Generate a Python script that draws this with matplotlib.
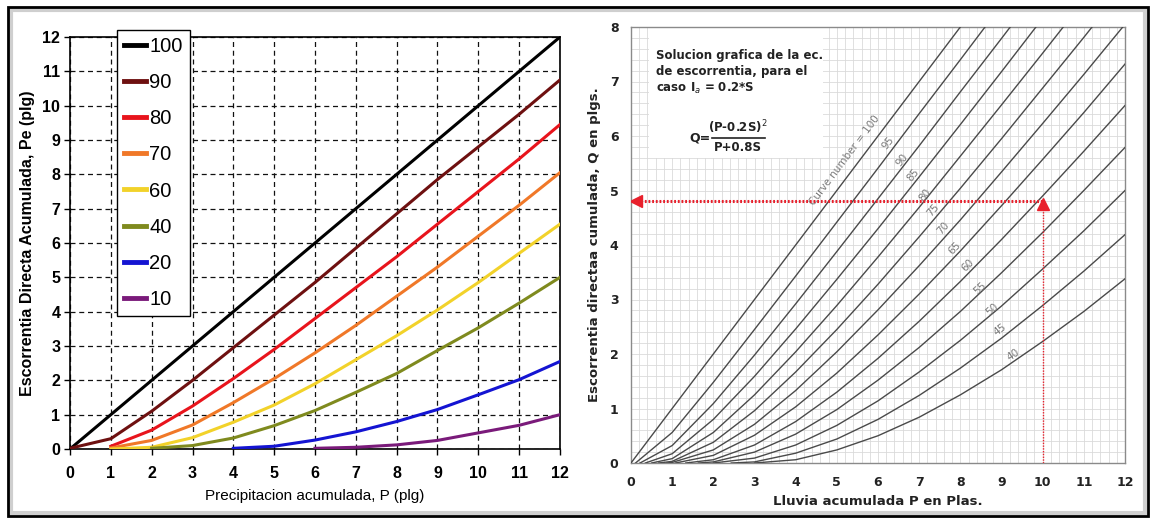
import numpy as np
import matplotlib.pyplot as plt
from matplotlib.patches import Rectangle

nan = np.nan
W, H = 1153, 520

# ---- left chart: Pe vs P ----
cn_left = ["100", "90", "80", "70", "60", "40", "20", "10"]
colors_left = ["#000000", "#6e1010", "#e8141c", "#f07828", "#f2d22a",
               "#7f8a1e", "#1414d2", "#7a1a7a"]
p_100 = [0, 1, 2, 3, 4, 5, 6, 7, 8, 9, 10, 11, 12]
pe_100 = [0, 1, 2, 3, 4, 5, 6, 7, 8, 9, 10, 11, 12]
p_90 = [0, 1, 2, 3, 4, 5, 6, 7, 8, 9, 10, 11, 12]
pe_90 = [0.02, 0.3, 1.1, 2.0, 2.95, 3.9, 4.85, 5.85, 6.85, 7.85, 8.8, 9.75, 10.75]
p_80 = [1, 2, 3, 4, 5, 6, 7, 8, 9, 10, 11, 12]
pe_80 = [0.08, 0.55, 1.25, 2.05, 2.9, 3.8, 4.7, 5.6, 6.55, 7.5, 8.45, 9.45]
p_70 = [1, 2, 3, 4, 5, 6, 7, 8, 9, 10, 11, 12]
pe_70 = [0.03, 0.25, 0.7, 1.35, 2.05, 2.8, 3.6, 4.45, 5.3, 6.2, 7.1, 8.05]
p_60 = [1, 2, 3, 4, 5, 6, 7, 8, 9, 10, 11, 12]
pe_60 = [0.0, 0.05, 0.33, 0.78, 1.28, 1.9, 2.6, 3.3, 4.05, 4.85, 5.7, 6.55]
p_40 = [2, 3, 4, 5, 6, 7, 8, 9, 10, 11, 12]
pe_40 = [0.02, 0.1, 0.32, 0.68, 1.12, 1.65, 2.2, 2.87, 3.53, 4.25, 5.0]
p_20 = [4, 5, 6, 7, 8, 9, 10, 11, 12]
pe_20 = [0.02, 0.08, 0.26, 0.5, 0.8, 1.15, 1.58, 2.02, 2.55]
p_10 = [6, 7, 8, 9, 10, 11, 12]
pe_10 = [0.02, 0.05, 0.12, 0.25, 0.47, 0.69, 1.0]

# ---- right chart: Q vs P for curve numbers ----
p_right = [0, 1, 2, 3, 4, 5, 6, 7, 8, 9, 10, 11, 12]
cn_right = [100, 95, 90, 85, 80, 75, 70, 65, 60, 55, 50, 45, 40]
ia_right = [0.0, 0.11, 0.22, 0.35, 0.5, 0.67, 0.86, 1.08, 1.33, 1.64, 2.0, 2.44, 3.0]
q100 = [0, 1, 2, 3, 4, 5, 6, 7, 8, 9, 10, 11, 12]
q95 = [nan, 0.56, 1.48, 2.45, 3.43, 4.42, 5.41, 6.41, 7.40, 8.40, 9.39, 10.39, 11.39]
q90 = [nan, 0.32, 1.09, 1.98, 2.92, 3.88, 4.85, 5.82, 6.81, 7.79, 8.78, 9.77, 10.76]
q85 = [nan, 0.17, 0.80, 1.59, 2.46, 3.37, 4.30, 5.25, 6.21, 7.18, 8.16, 9.13, 10.12]
q80 = [nan, 0.08, 0.56, 1.25, 2.04, 2.89, 3.78, 4.69, 5.63, 6.57, 7.52, 8.48, 9.45]
q75 = [nan, 0.03, 0.38, 0.96, 1.67, 2.45, 3.28, 4.15, 5.04, 5.95, 6.88, 7.81, 8.76]
q70 = [nan, 0.01, 0.24, 0.71, 1.33, 2.04, 2.81, 3.62, 4.46, 5.34, 6.23, 7.13, 8.05]
q65 = [nan, nan, 0.14, 0.51, 1.03, 1.65, 2.35, 3.10, 3.89, 4.72, 5.57, 6.43, 7.32]
q60 = [nan, nan, 0.06, 0.33, 0.76, 1.30, 1.92, 2.60, 3.33, 4.10, 4.90, 5.72, 6.56]
q55 = [nan, nan, 0.02, 0.20, 0.53, 0.98, 1.52, 2.12, 2.78, 3.49, 4.23, 5.00, 5.79]
q50 = [nan, nan, nan, 0.09, 0.33, 0.69, 1.14, 1.67, 2.25, 2.88, 3.56, 4.26, 5.00]
q45 = [nan, nan, nan, 0.02, 0.18, 0.44, 0.80, 1.24, 1.74, 2.29, 2.89, 3.52, 4.19]
q40 = [nan, nan, nan, nan, 0.06, 0.24, 0.50, 0.84, 1.25, 1.71, 2.23, 2.78, 3.38]
q_right = [q100, q95, q90, q85, q80, q75, q70, q65, q60, q55, q50, q45, q40]
curve_labels = ["Curve number = 100", "95", "90", "85", "80", "75", "70",
                "65", "60", "55", "50", "45", "40"]
# reading example: P = 10 plg gives Q = 4.8 plg
p_example = 10
q_example = 4.8

arial = ["Liberation Sans", "DejaVu Sans"]

fig = plt.figure(figsize=(W / 100, H / 100), dpi=100)
fig.patch.set_facecolor("white")

# ---------------- left panel ----------------
ax1 = fig.add_axes([70 / W, 1 - 449 / H, 490 / W, 412 / H])
left_x = [p_100, p_90, p_80, p_70, p_60, p_40, p_20, p_10]
left_y = [pe_100, pe_90, pe_80, pe_70, pe_60, pe_40, pe_20, pe_10]
for x, y, lab, c in zip(left_x, left_y, cn_left, colors_left):
    ax1.plot(x, y, color=c, lw=2.2, label=lab, zorder=3)
ax1.set_xlim(0, 12)
ax1.set_ylim(0, 12)
ax1.set_xticks(range(13))
ax1.set_yticks(range(13))
ax1.grid(True, ls=(0, (4, 3)), color="#111111", lw=0.9)
ax1.set_axisbelow(True)
for s in ax1.spines.values():
    s.set_color("black")
    s.set_linewidth(1.2)
ax1.tick_params(length=4, width=1, pad=3, labelsize=11.5)
ax1.tick_params(axis="x", pad=8)
for t in ax1.get_xticklabels() + ax1.get_yticklabels():
    t.set_family(arial)
    t.set_fontweight("bold")
ax1.set_xlabel("Precipitacion acumulada, P (plg)", family=arial,
               fontsize=11, labelpad=6)
ax1.set_ylabel("Escorrentia Directa Acumulada, Pe (plg)", family=arial,
               fontweight="bold", fontsize=11.5, labelpad=5)
leg = ax1.legend(loc="upper left", bbox_to_anchor=(0.096, 1.017),
                 borderaxespad=0, fancybox=False, framealpha=1,
                 edgecolor="black", handlelength=1.1, handletextpad=0.15,
                 labelspacing=0.85, borderpad=0.35,
                 prop={"family": arial, "size": 14.5})
leg.get_frame().set_linewidth(1.0)
for h in leg.get_lines():
    h.set_linewidth(3.5)

# ---------------- right panel ----------------
ax2 = fig.add_axes([631 / W, 1 - 463 / H, 494 / W, 436 / H])
for cn, ia, q in zip(cn_right, ia_right, q_right):
    xs = [ia] + [p for p, v in zip(p_right, q) if not np.isnan(v) and p > ia]
    ys = [0.0] + [v for p, v in zip(p_right, q) if not np.isnan(v) and p > ia]
    ax2.plot(xs, ys, color="#4a4a4a", lw=1.0, zorder=3)
ax2.set_xlim(0, 12)
ax2.set_ylim(0, 8)
ax2.set_xticks(range(13))
ax2.set_yticks(range(9))
ax2.set_xticks(np.arange(0, 12.01, 0.2), minor=True)
ax2.set_yticks(np.arange(0, 8.01, 0.2), minor=True)
ax2.grid(True, which="both", color="#dadada", lw=0.6)
ax2.set_axisbelow(True)
for s in ax2.spines.values():
    s.set_color("#8a8a8a")
    s.set_linewidth(1.0)
ax2.tick_params(which="both", length=0, labelsize=9, pad=9)
for t in ax2.get_xticklabels() + ax2.get_yticklabels():
    t.set_fontweight("bold")
    t.set_color("#222222")
ax2.set_xlabel("Lluvia acumulada P en Plas.", fontsize=9.5, labelpad=5,
               color="#222222", fontweight="semibold")
ax2.set_ylabel("Escorrentia directaa cumulada, Q en plgs.", fontsize=9.5,
               labelpad=6, color="#222222", fontweight="semibold")

# white box with the explanation
ax2.add_patch(Rectangle((0.44, 5.6), 4.23, 2.4, facecolor="white",
                        edgecolor="none", zorder=2))
ax2.text(0.6, 7.6, "Solucion grafica de la ec.\nde escorrentia, para el\ncaso I$_a$ = 0.2*S",
         fontsize=8.5, fontweight="bold", va="top", ha="left", linespacing=1.3,
         color="#222222", zorder=4)
ax2.text(1.43, 5.97, "Q=", fontsize=9, fontweight="bold", va="center",
         ha="left", color="#222222", zorder=4)
ax2.text(2.6, 6.17, "(P-0.2S)$^2$", fontsize=8.5, fontweight="bold",
         va="center", ha="center", color="#222222", zorder=4)
ax2.text(2.6, 5.78, "P+0.8S", fontsize=8.5, fontweight="bold",
         va="center", ha="center", color="#222222", zorder=4)
ax2.plot([1.97, 3.25], [5.97, 5.97], color="#222222", lw=1.2, zorder=4)

# curve number labels
lab_x = [5.2, 6.24, 6.58, 6.85, 7.14, 7.34, 7.58, 7.87, 8.19, 8.48, 8.77, 8.96, 9.28]
lab_y = [5.55, 5.87, 5.56, 5.28, 4.92, 4.64, 4.31, 3.94, 3.63, 3.21, 2.81, 2.44, 1.98]
lab_rot = [53, 52, 52, 51, 51, 50, 49, 47, 45, 43, 41, 37, 34]
for s, x, y, r in zip(curve_labels, lab_x, lab_y, lab_rot):
    ax2.text(x, y, s, fontsize=7.5, color="#7a7a7a", rotation=r,
             ha="center", va="center", zorder=4)

# reading example arrows
red = "#e8202c"
ax2.plot([0.15, p_example], [q_example, q_example], color=red, lw=2.2,
         ls=(0, (0.6, 0.6)), zorder=5)
ax2.plot([p_example, p_example], [0, q_example - 0.15], color=red, lw=1.0,
         ls=(0, (1, 1)), zorder=5)
ax2.plot([0.13], [q_example], marker="<", color=red, ms=8, zorder=6)
ax2.plot([p_example], [q_example - 0.05], marker="^", color=red, ms=9, zorder=6)

# outer frame around both panels
fig.add_artist(Rectangle((11 / W, 7 / H), 1134 / W, 503 / H, transform=fig.transFigure,
                         fill=False, ec="#cfcfcf", lw=3))
fig.add_artist(Rectangle((8 / W, 4 / H), 1140 / W, 509 / H, transform=fig.transFigure,
                         fill=False, ec="black", lw=2))

fig.savefig("out.png", dpi=100)
